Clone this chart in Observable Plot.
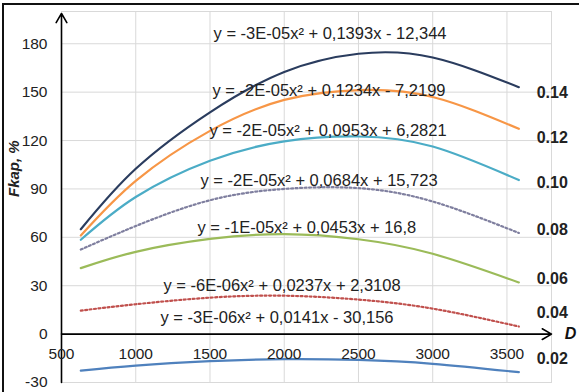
<!DOCTYPE html>
<html><head><meta charset="utf-8">
<script src="https://cdn.jsdelivr.net/npm/d3@7"></script>
<script src="https://cdn.jsdelivr.net/npm/@observablehq/plot@0.6"></script>
<style>
body{margin:0;background:#fff;}
#wrap{position:relative;width:579px;height:392px;overflow:hidden;background:#fff;}
#frame{position:absolute;left:2px;top:3px;width:600px;height:400px;border-left:2px solid #111;border-top:2px solid #111;}
#chart{position:absolute;left:0;top:0;}
</style></head><body>
<div id="wrap"><div id="frame"></div><div id="chart"></div></div>
<script>
// D values (x) where curves were read
const D = [630, 1000, 1500, 2000, 2500, 3000, 3580];
// Fkap, % values for each series
const s014 = [65.0, 102.5, 137.5, 162.5, 173.8, 171.5, 153.1];
const s012 = [61.1, 95.0, 126.0, 145.2, 151.3, 147.0, 127.3];
const s010 = [58.5, 85.0, 107.5, 119.5, 122.5, 116.3, 95.5];
const s008 = [52.4, 67.0, 83.0, 90.0, 90.5, 82.2, 62.7];
const s006 = [40.9, 51.0, 59.0, 62.0, 58.8, 49.8, 32.0];
const s004 = [14.6, 18.5, 22.6, 23.8, 21.4, 15.8, 4.7];
const s002 = [-22.6, -19.5, -16.8, -15.5, -16.0, -18.4, -23.6];
const seriesNames = ["0.14", "0.12", "0.10", "0.08", "0.06", "0.04", "0.02"];
const seriesValues = [s014, s012, s010, s008, s006, s004, s002];
const seriesColors = ["#2a3c5e", "#f79646", "#4bacc6", "#7f7f9f", "#9bbb59", "#c0504d", "#4f81bd"];
const seriesDotted = [false, false, false, true, false, true, false];
// series labels on the right (value position)
const labelY = [149.7, 121.7, 93.8, 64.6, 34.2, 13, -15.5];
// trendline equations and their positions
const equations = [
  "y = -3E-05x² + 0,1393x - 12,344",
  "y = -2E-05x² + 0,1234x - 7,2199",
  "y = -2E-05x² + 0,0953x + 6,2821",
  "y = -2E-05x² + 0,0684x + 15,723",
  "y = -1E-05x² + 0,0453x + 16,8",
  "y = -6E-06x² + 0,0237x + 2,3108",
  "y = -3E-06x² + 0,0141x - 30,156"
];
const eqX = [1524, 1517, 1497, 1436, 1416, 1187, 1167];
const eqY = [186.4, 151.0, 126.2, 95.2, 66.1, 30.1, 10.3];
const xTicks = [500, 1000, 1500, 2000, 2500, 3000, 3500];
const yTicks = [-30, 0, 30, 60, 90, 120, 150, 180];

const font = "Liberation Sans, Arial, sans-serif";
const lineMarks = seriesNames.map((name, i) =>
  Plot.line(D.map((d, j) => ({D: d, v: seriesValues[i][j]})), {
    x: "D", y: "v", stroke: seriesColors[i], strokeWidth: 2.2,
    strokeDasharray: seriesDotted[i] ? "2,2.5" : null,
    curve: "natural"
  })
);
const eqData = equations.map((t, i) => ({t, x: eqX[i], y: eqY[i]}));
const lblData = seriesNames.map((t, i) => ({t, y: labelY[i]}));

const chart = Plot.plot({
  width: 579, height: 392,
  marginLeft: 61, marginRight: 28, marginTop: 11, marginBottom: 10,
  x: {domain: [500, 3800], axis: null},
  y: {domain: [-30, 200], axis: null},
  style: {fontFamily: font, background: "transparent"},
  marks: [
    Plot.frame({stroke: "#d9d9d9"}),
    Plot.ruleX(xTicks.slice(1), {stroke: "#d9d9d9", strokeWidth: 1}),
    Plot.ruleY(yTicks, {stroke: "#d9d9d9", strokeWidth: 1}),
    ...lineMarks,
    Plot.arrow([{x1: 500, y1: 0, x2: 3800, y2: 0}], {x1: "x1", y1: "y1", x2: "x2", y2: "y2", stroke: "#000", strokeWidth: 1.6, headLength: 10}),
    Plot.arrow([{x1: 500, y1: -30, x2: 500, y2: 198.8}], {x1: "x1", y1: "y1", x2: "x2", y2: "y2", stroke: "#000", strokeWidth: 1.6, headLength: 10}),
    Plot.text(xTicks, {x: d => d, y: 0, dy: 20, text: d => String(d), fontSize: 15.5, fill: "#222", textAnchor: "middle"}),
    Plot.text(yTicks, {x: 500, y: d => d, dx: -14, text: d => String(d), fontSize: 15.5, fill: "#222", textAnchor: "end"}),
    Plot.text(eqData, {x: "x", y: "y", text: "t", fontSize: 16.5, fill: "#222", textAnchor: "start"}),
    Plot.text(lblData, {x: 3700, y: "y", text: "t", fontSize: 16, fontWeight: "bold", fill: "#222", textAnchor: "start"}),
    Plot.text(["D"], {x: 3800, y: 0, dx: 19, text: d => d, fontSize: 16, fontWeight: "bold", fontStyle: "italic", fill: "#111"}),
    Plot.text(["Fkap, %"], {frameAnchor: "left", dx: -47, rotate: -90, text: d => d, fontSize: 15, fontWeight: "bold", fontStyle: "italic", fill: "#222"})
  ]
});
document.getElementById("chart").appendChild(chart);
</script>
</body></html>
